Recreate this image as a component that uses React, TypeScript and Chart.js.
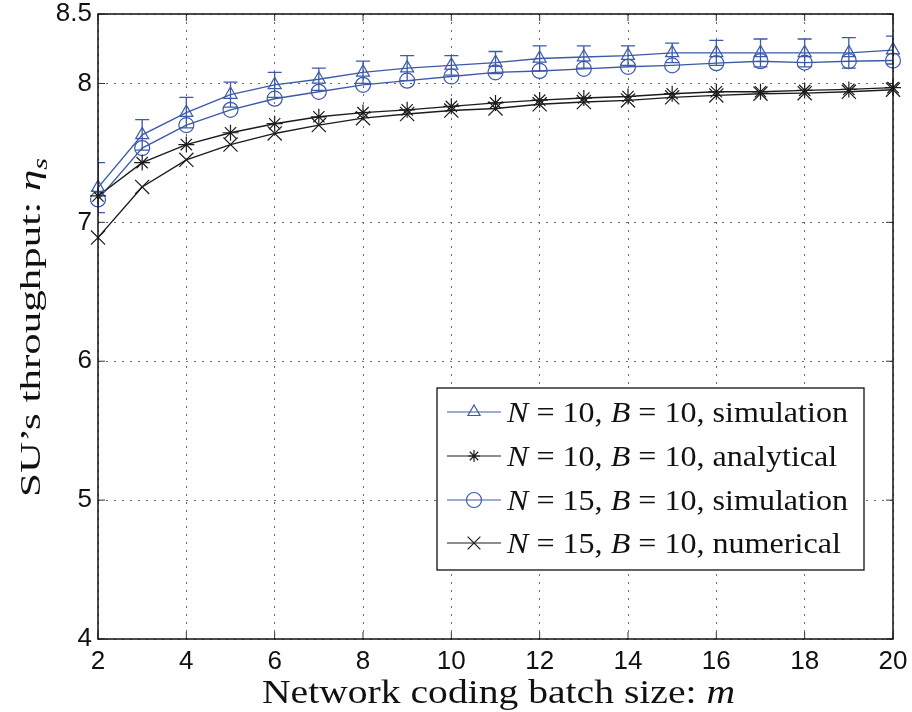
import { useEffect, useRef } from "react";
import { Chart, registerables } from "chart.js";

Chart.register(...registerables);

// ---- data ----
const batchSizes = [2, 3, 4, 5, 6, 7, 8, 9, 10, 11, 12, 13, 14, 15, 16, 17, 18, 19, 20];
const simN10 = [7.25, 7.63, 7.79, 7.92, 7.99, 8.03, 8.08, 8.11, 8.13, 8.15, 8.18, 8.19, 8.2, 8.22, 8.22, 8.22, 8.22, 8.22, 8.24];
const simN10Err = [0.18, 0.11, 0.11, 0.09, 0.09, 0.08, 0.08, 0.09, 0.07, 0.08, 0.09, 0.08, 0.07, 0.07, 0.09, 0.1, 0.1, 0.11, 0.1];
const anaN10 = [7.19, 7.43, 7.56, 7.645, 7.71, 7.76, 7.79, 7.81, 7.835, 7.86, 7.88, 7.895, 7.906, 7.926, 7.94, 7.94, 7.95, 7.957, 7.97];
const simN15 = [7.165, 7.535, 7.7, 7.81, 7.89, 7.94, 7.99, 8.02, 8.05, 8.08, 8.09, 8.105, 8.12, 8.13, 8.146, 8.16, 8.15, 8.16, 8.165];
const numN15 = [6.89, 7.255, 7.45, 7.56, 7.64, 7.7, 7.75, 7.78, 7.805, 7.82, 7.85, 7.866, 7.878, 7.9, 7.914, 7.926, 7.93, 7.94, 7.955];
const yTickValues = [4, 5, 6, 7, 8, 8.5];
const legendLabels = ["simulation", "analytical", "simulation", "numerical"];
const legendN = ["10", "10", "15", "15"];
const legendB = ["10", "10", "10", "10"];

const BLUE = "#3c5aa8";
const BLACK = "#1c1c1c";
const SERIF = '"Liberation Serif", "Times New Roman", serif';
const SANS = '"Liberation Sans", Arial, sans-serif';

type Part = { t: string; it?: boolean; sub?: boolean };

function partFont(p: Part, size: number) {
  const s = p.sub ? size * 0.7 : size;
  return `${p.it ? "italic " : ""}${s}px ${SERIF}`;
}
function measureParts(ctx: CanvasRenderingContext2D, parts: Part[], size: number) {
  let w = 0;
  for (const p of parts) {
    ctx.font = partFont(p, size);
    w += ctx.measureText(p.t).width;
  }
  return w;
}
function drawParts(ctx: CanvasRenderingContext2D, parts: Part[], size: number, scaleX: number) {
  ctx.save();
  ctx.scale(scaleX, 1);
  let cx = 0;
  ctx.textBaseline = "alphabetic";
  ctx.textAlign = "left";
  for (const p of parts) {
    ctx.font = partFont(p, size);
    ctx.fillText(p.t, cx, p.sub ? size * 0.22 : 0);
    cx += ctx.measureText(p.t).width;
  }
  ctx.restore();
}

function drawMarker(ctx: CanvasRenderingContext2D, style: string, x: number, y: number, r: number) {
  ctx.beginPath();
  if (style === "triangle") {
    ctx.moveTo(x, y - r);
    ctx.lineTo(x + 0.866 * r, y + 0.5 * r);
    ctx.lineTo(x - 0.866 * r, y + 0.5 * r);
    ctx.closePath();
  } else if (style === "circle") {
    ctx.arc(x, y, r, 0, Math.PI * 2);
  } else if (style === "star") {
    const d = r * 0.707;
    ctx.moveTo(x - r, y); ctx.lineTo(x + r, y);
    ctx.moveTo(x, y - r); ctx.lineTo(x, y + r);
    ctx.moveTo(x - d, y - d); ctx.lineTo(x + d, y + d);
    ctx.moveTo(x - d, y + d); ctx.lineTo(x + d, y - d);
  } else {
    const d = r * 0.707;
    ctx.moveTo(x - d, y - d); ctx.lineTo(x + d, y + d);
    ctx.moveTo(x - d, y + d); ctx.lineTo(x + d, y - d);
  }
  ctx.stroke();
}

const overlayPlugin = {
  id: "overlay",
  afterDatasetsDraw(chart: any) {
    const { ctx, chartArea: a, scales } = chart;
    const xs = scales.x;
    const ys = scales.y;
    ctx.save();
    ctx.beginPath();
    ctx.rect(a.left, a.top, a.right - a.left, a.bottom - a.top);
    ctx.clip();
    ctx.strokeStyle = BLUE;
    ctx.lineWidth = 1.3;
    batchSizes.forEach((m, i) => {
      const px = xs.getPixelForValue(m);
      const t = ys.getPixelForValue(simN10[i] + simN10Err[i]);
      const b = ys.getPixelForValue(simN10[i] - simN10Err[i]);
      ctx.beginPath();
      ctx.moveTo(px, t); ctx.lineTo(px, b);
      ctx.moveTo(px - 7, t); ctx.lineTo(px + 7, t);
      ctx.moveTo(px - 7, b); ctx.lineTo(px + 7, b);
      ctx.stroke();
    });
    ctx.restore();
  },
  afterDraw(chart: any) {
    const { ctx, chartArea: a, scales } = chart;
    const xs = scales.x;
    const ys = scales.y;
    ctx.save();
    // inner ticks
    ctx.strokeStyle = "#333";
    ctx.lineWidth = 1;
    ctx.beginPath();
    for (const t of xs.ticks) {
      const px = xs.getPixelForValue(t.value);
      ctx.moveTo(px, a.bottom); ctx.lineTo(px, a.bottom - 7);
      ctx.moveTo(px, a.top); ctx.lineTo(px, a.top + 7);
    }
    for (const t of ys.ticks) {
      const py = ys.getPixelForValue(t.value);
      ctx.moveTo(a.left, py); ctx.lineTo(a.left + 7, py);
      ctx.moveTo(a.right, py); ctx.lineTo(a.right - 7, py);
    }
    ctx.stroke();
    // box
    ctx.strokeStyle = "#111";
    ctx.lineWidth = 1.5;
    ctx.strokeRect(a.left, a.top, a.right - a.left, a.bottom - a.top);

    // legend
    const lx = 437, ly = 388, lw = 427, lh = 182;
    ctx.fillStyle = "#fff";
    ctx.fillRect(lx, ly, lw, lh);
    ctx.strokeStyle = "#111";
    ctx.lineWidth = 1.3;
    ctx.strokeRect(lx, ly, lw, lh);
    const styles = ["triangle", "star", "circle", "crossRot"];
    const colors = [BLUE, BLACK, BLUE, BLACK];
    const radii = [7, 6, 7.5, 9];
    const baselines = [422, 466, 510, 553];
    const legSize = 30;
    const rows: Part[][] = legendLabels.map((lab, i) => [
      { t: "N", it: true },
      { t: ` = ${legendN[i]}, ` },
      { t: "B", it: true },
      { t: ` = ${legendB[i]}, ${lab}` },
    ]);
    const legScale = 341 / measureParts(ctx, rows[0], legSize);
    rows.forEach((parts, i) => {
      const cy = baselines[i] - 10;
      ctx.strokeStyle = colors[i];
      ctx.lineWidth = 1.2;
      ctx.beginPath();
      ctx.moveTo(447, cy); ctx.lineTo(501, cy);
      ctx.stroke();
      drawMarker(ctx, styles[i], 474, cy, radii[i]);
      ctx.fillStyle = "#111";
      ctx.save();
      ctx.translate(507, baselines[i]);
      drawParts(ctx, parts, legSize, legScale);
      ctx.restore();
    });

    // x title
    ctx.fillStyle = "#111";
    const xParts: Part[] = [{ t: "Network coding batch size: " }, { t: "m", it: true }];
    const xSize = 34;
    const xScaleF = 473 / measureParts(ctx, xParts, xSize);
    ctx.save();
    ctx.translate(262, 703);
    drawParts(ctx, xParts, xSize, xScaleF);
    ctx.restore();

    // y title
    const yParts: Part[] = [{ t: "SU\u2019s throughput: " }, { t: "\u03b7", it: true }, { t: "s", it: true, sub: true }];
    const ySize = 30;
    const yScaleF = 339 / measureParts(ctx, yParts, ySize);
    ctx.save();
    ctx.translate(40, 497);
    ctx.rotate(-Math.PI / 2);
    drawParts(ctx, yParts, ySize, yScaleF);
    ctx.restore();

    ctx.restore();
  },
};

export default function App() {
  const ref = useRef<HTMLCanvasElement | null>(null);
  useEffect(() => {
    document.body.style.margin = "0";
    if (!ref.current) return;
    const mk = (vals: number[]) => batchSizes.map((x, i) => ({ x, y: vals[i] }));
    const chart = new Chart(ref.current, {
      type: "line",
      data: {
        datasets: [
          { label: "N = 10, B = 10, simulation", data: mk(simN10), borderColor: BLUE, backgroundColor: "rgba(0,0,0,0)", pointStyle: "triangle", pointRadius: 7.5, pointBorderColor: BLUE, pointBackgroundColor: "rgba(0,0,0,0)", pointBorderWidth: 1.2, borderWidth: 1.4, tension: 0, clip: 14 } as any,
          { label: "N = 10, B = 10, analytical", data: mk(anaN10), borderColor: BLACK, backgroundColor: "rgba(0,0,0,0)", pointStyle: "star", pointRadius: 8, pointBorderColor: BLACK, pointBorderWidth: 1.2, borderWidth: 1.4, tension: 0, clip: 14 } as any,
          { label: "N = 15, B = 10, simulation", data: mk(simN15), borderColor: BLUE, backgroundColor: "rgba(0,0,0,0)", pointStyle: "circle", pointRadius: 7.5, pointBorderColor: BLUE, pointBackgroundColor: "rgba(0,0,0,0)", pointBorderWidth: 1.2, borderWidth: 1.4, tension: 0, clip: 14 } as any,
          { label: "N = 15, B = 10, numerical", data: mk(numN15), borderColor: BLACK, backgroundColor: "rgba(0,0,0,0)", pointStyle: "crossRot", pointRadius: 10, pointBorderColor: BLACK, pointBorderWidth: 1.2, borderWidth: 1.4, tension: 0, clip: 14 } as any,
        ],
      },
      options: {
        animation: false,
        responsive: false,
        layout: { padding: { top: 14, right: 19, left: 0, bottom: 0 } },
        plugins: { legend: { display: false }, tooltip: { enabled: false } },
        scales: {
          x: {
            type: "linear",
            min: 2,
            max: 20,
            ticks: { stepSize: 2, color: "#111", font: { family: SANS, size: 26, lineHeight: 1 }, padding: 0, maxRotation: 0, autoSkip: false },
            grid: { color: "#666", lineWidth: 1, drawTicks: true, tickLength: 10, tickColor: "rgba(0,0,0,0)" },
            border: { display: false, dash: [2, 6] },
            afterFit: (s: any) => { s.height = 73; },
          },
          y: {
            type: "linear",
            min: 4,
            max: 8.5,
            afterBuildTicks: (s: any) => { s.ticks = yTickValues.map((v) => ({ value: v })); },
            ticks: { color: "#111", font: { family: SANS, size: 26, lineHeight: 1 }, padding: 0, callback: (v: any) => String(v) },
            grid: { color: "#666", lineWidth: 1, drawTicks: true, tickLength: 6, tickColor: "rgba(0,0,0,0)" },
            border: { display: false, dash: [2, 6] },
            afterFit: (s: any) => { s.width = 98; },
          },
        } as any,
      },
      plugins: [overlayPlugin],
    });
    return () => chart.destroy();
  }, []);
  return <canvas ref={ref} width={912} height={712} style={{ display: "block" }} />;
}
